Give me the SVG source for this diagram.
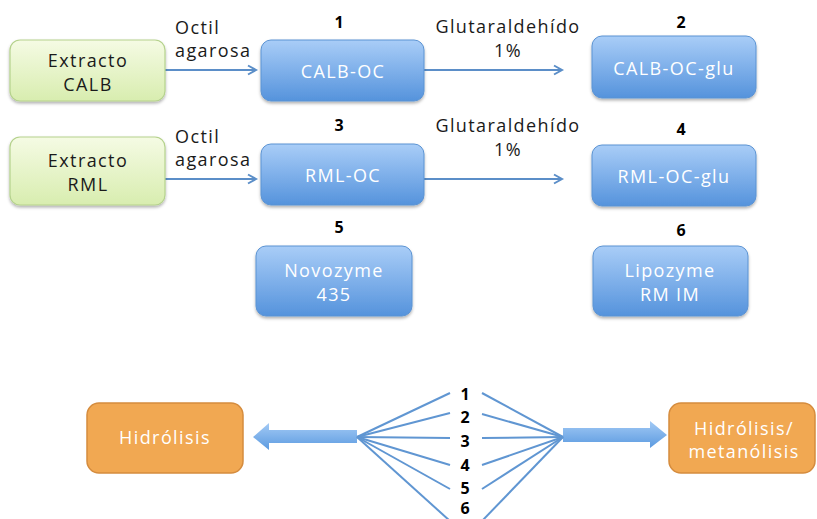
<svg xmlns="http://www.w3.org/2000/svg" width="817" height="519" viewBox="0 0 817 519">
<style>
.t{font-family:"Open Sans","DejaVu Sans",sans-serif;font-size:18px;letter-spacing:1.4px;fill:#1a1a1a;text-anchor:middle}
.w{fill:#ffffff}
.n{font-family:"Open Sans","DejaVu Sans",sans-serif;font-size:16px;font-weight:bold;fill:#000;text-anchor:middle}
.lbl{font-family:"Open Sans","DejaVu Sans",sans-serif;font-size:18px;letter-spacing:1.4px;fill:#1a1a1a}
.blue{fill:url(#gb);stroke:#5b93d3;stroke-width:1;filter:url(#sh)}
.green{fill:url(#gg);stroke:#b5d28c;stroke-width:1.2;filter:url(#sh)}
.orange{fill:#f1a852;stroke:#d58c3e;stroke-width:1.5}
.ln{stroke:#5b8ec8;stroke-width:2;fill:none}
.fan{stroke:#6096d2;stroke-width:2;fill:none}
.blk{fill:url(#ga);stroke:none}
</style>
<defs>
<linearGradient id="gb" x1="0" y1="0" x2="0" y2="1">
<stop offset="0" stop-color="#a9cdf7"/>
<stop offset="0.5" stop-color="#7fb0ea"/>
<stop offset="1" stop-color="#5593dc"/>
</linearGradient>
<linearGradient id="gg" x1="0" y1="0" x2="0" y2="1">
<stop offset="0" stop-color="#f5fbe4"/>
<stop offset="1" stop-color="#d8edaf"/>
</linearGradient>
<linearGradient id="ga" x1="0" y1="0" x2="0" y2="1">
<stop offset="0" stop-color="#a3caf5"/>
<stop offset="1" stop-color="#5b9ae0"/>
</linearGradient>
<filter id="sh" x="-10%" y="-10%" width="125%" height="130%">
<feDropShadow dx="0" dy="2" stdDeviation="1.5" flood-color="#000" flood-opacity="0.3"/>
</filter>
<marker id="ah" markerWidth="12" markerHeight="12" refX="9" refY="6" orient="auto" markerUnits="userSpaceOnUse">
<path d="M1,1.5 L9,6 L1,10.5" fill="none" stroke="#5b8ec8" stroke-width="2"/>
</marker>
</defs>

<g id="connectors">
<line class="ln" x1="165" y1="70" x2="256" y2="70" marker-end="url(#ah)"/>
<line class="ln" x1="424" y1="70" x2="562" y2="70" marker-end="url(#ah)"/>
<line class="ln" x1="165" y1="179" x2="256" y2="179" marker-end="url(#ah)"/>
<line class="ln" x1="424" y1="179" x2="562" y2="179" marker-end="url(#ah)"/>
<text class="lbl" x="175" y="34">Octil</text>
<text class="lbl" x="175" y="57">agarosa</text>
<text class="lbl" x="175" y="143">Octil</text>
<text class="lbl" x="175" y="166">agarosa</text>
<text class="t" x="508" y="33">Glutaraldehído</text>
<text class="t" x="508" y="57">1%</text>
<text class="t" x="508" y="132">Glutaraldehído</text>
<text class="t" x="508" y="156">1%</text>
<polygon class="blk" points="253,437 269,423 269,430 357,430 357,443 269,443 269,450"/>
<polygon class="blk" points="563,428 650,428 650,421 667,435 650,448 650,442 563,442"/>
<g class="fan">
<line x1="357" y1="437" x2="450" y2="393"/>
<line x1="357" y1="437" x2="450" y2="413"/>
<line x1="357" y1="437" x2="450" y2="438"/>
<line x1="357" y1="437" x2="450" y2="465"/>
<line x1="357" y1="437" x2="450" y2="489"/>
<line x1="357" y1="437" x2="450" y2="521"/>
<line x1="482" y1="393" x2="563" y2="437"/>
<line x1="482" y1="414" x2="563" y2="437"/>
<line x1="482" y1="438" x2="563" y2="437"/>
<line x1="482" y1="465" x2="563" y2="437"/>
<line x1="482" y1="489" x2="563" y2="437"/>
<line x1="482" y1="521" x2="563" y2="437"/>
</g>
<text class="n" x="465" y="400" font-size="17">1</text>
<text class="n" x="465" y="423" font-size="17">2</text>
<text class="n" x="465" y="447" font-size="17">3</text>
<text class="n" x="465" y="471" font-size="17">4</text>
<text class="n" x="465" y="494" font-size="17">5</text>
<text class="n" x="465" y="514" font-size="17">6</text>
</g>

<g id="extracto-calb">
<rect class="green" x="10" y="40" width="155" height="61" rx="10"/>
<text class="t" x="88" y="67">Extracto</text>
<text class="t" x="88" y="91">CALB</text>
</g>
<g id="extracto-rml">
<rect class="green" x="10" y="137" width="155" height="68" rx="10"/>
<text class="t" x="88" y="167">Extracto</text>
<text class="t" x="88" y="191">RML</text>
</g>
<g id="calb-oc">
<text class="n" x="339" y="28">1</text>
<rect class="blue" x="261" y="40" width="163" height="61" rx="10"/>
<text class="t w" x="343" y="78">CALB-OC</text>
</g>
<g id="rml-oc">
<text class="n" x="339" y="131">3</text>
<rect class="blue" x="261" y="144" width="163" height="61" rx="10"/>
<text class="t w" x="343" y="182">RML-OC</text>
</g>
<g id="calb-oc-glu">
<text class="n" x="681" y="28">2</text>
<rect class="blue" x="592" y="36" width="164" height="62" rx="10"/>
<text class="t w" x="674" y="75">CALB-OC-glu</text>
</g>
<g id="rml-oc-glu">
<text class="n" x="681" y="135">4</text>
<rect class="blue" x="592" y="145" width="164" height="61" rx="10"/>
<text class="t w" x="674" y="183">RML-OC-glu</text>
</g>
<g id="novozyme">
<text class="n" x="339" y="233">5</text>
<rect class="blue" x="256" y="246" width="156" height="70" rx="10"/>
<text class="t w" x="334" y="277">Novozyme</text>
<text class="t w" x="334" y="301">435</text>
</g>
<g id="lipozyme">
<text class="n" x="681" y="236">6</text>
<rect class="blue" x="593" y="246" width="155" height="70" rx="10"/>
<text class="t w" x="670" y="277">Lipozyme</text>
<text class="t w" x="670" y="301">RM IM</text>
</g>
<g id="hidrolisis">
<rect class="orange" x="87" y="403" width="156" height="70" rx="12"/>
<text class="t w" x="165" y="444">Hidrólisis</text>
</g>
<g id="hidrolisis-metanolisis">
<rect class="orange" x="669" y="403" width="146" height="70" rx="12"/>
<text class="t w" x="744" y="435">Hidrólisis/</text>
<text class="t w" x="744" y="458">metanólisis</text>
</g>
</svg>
